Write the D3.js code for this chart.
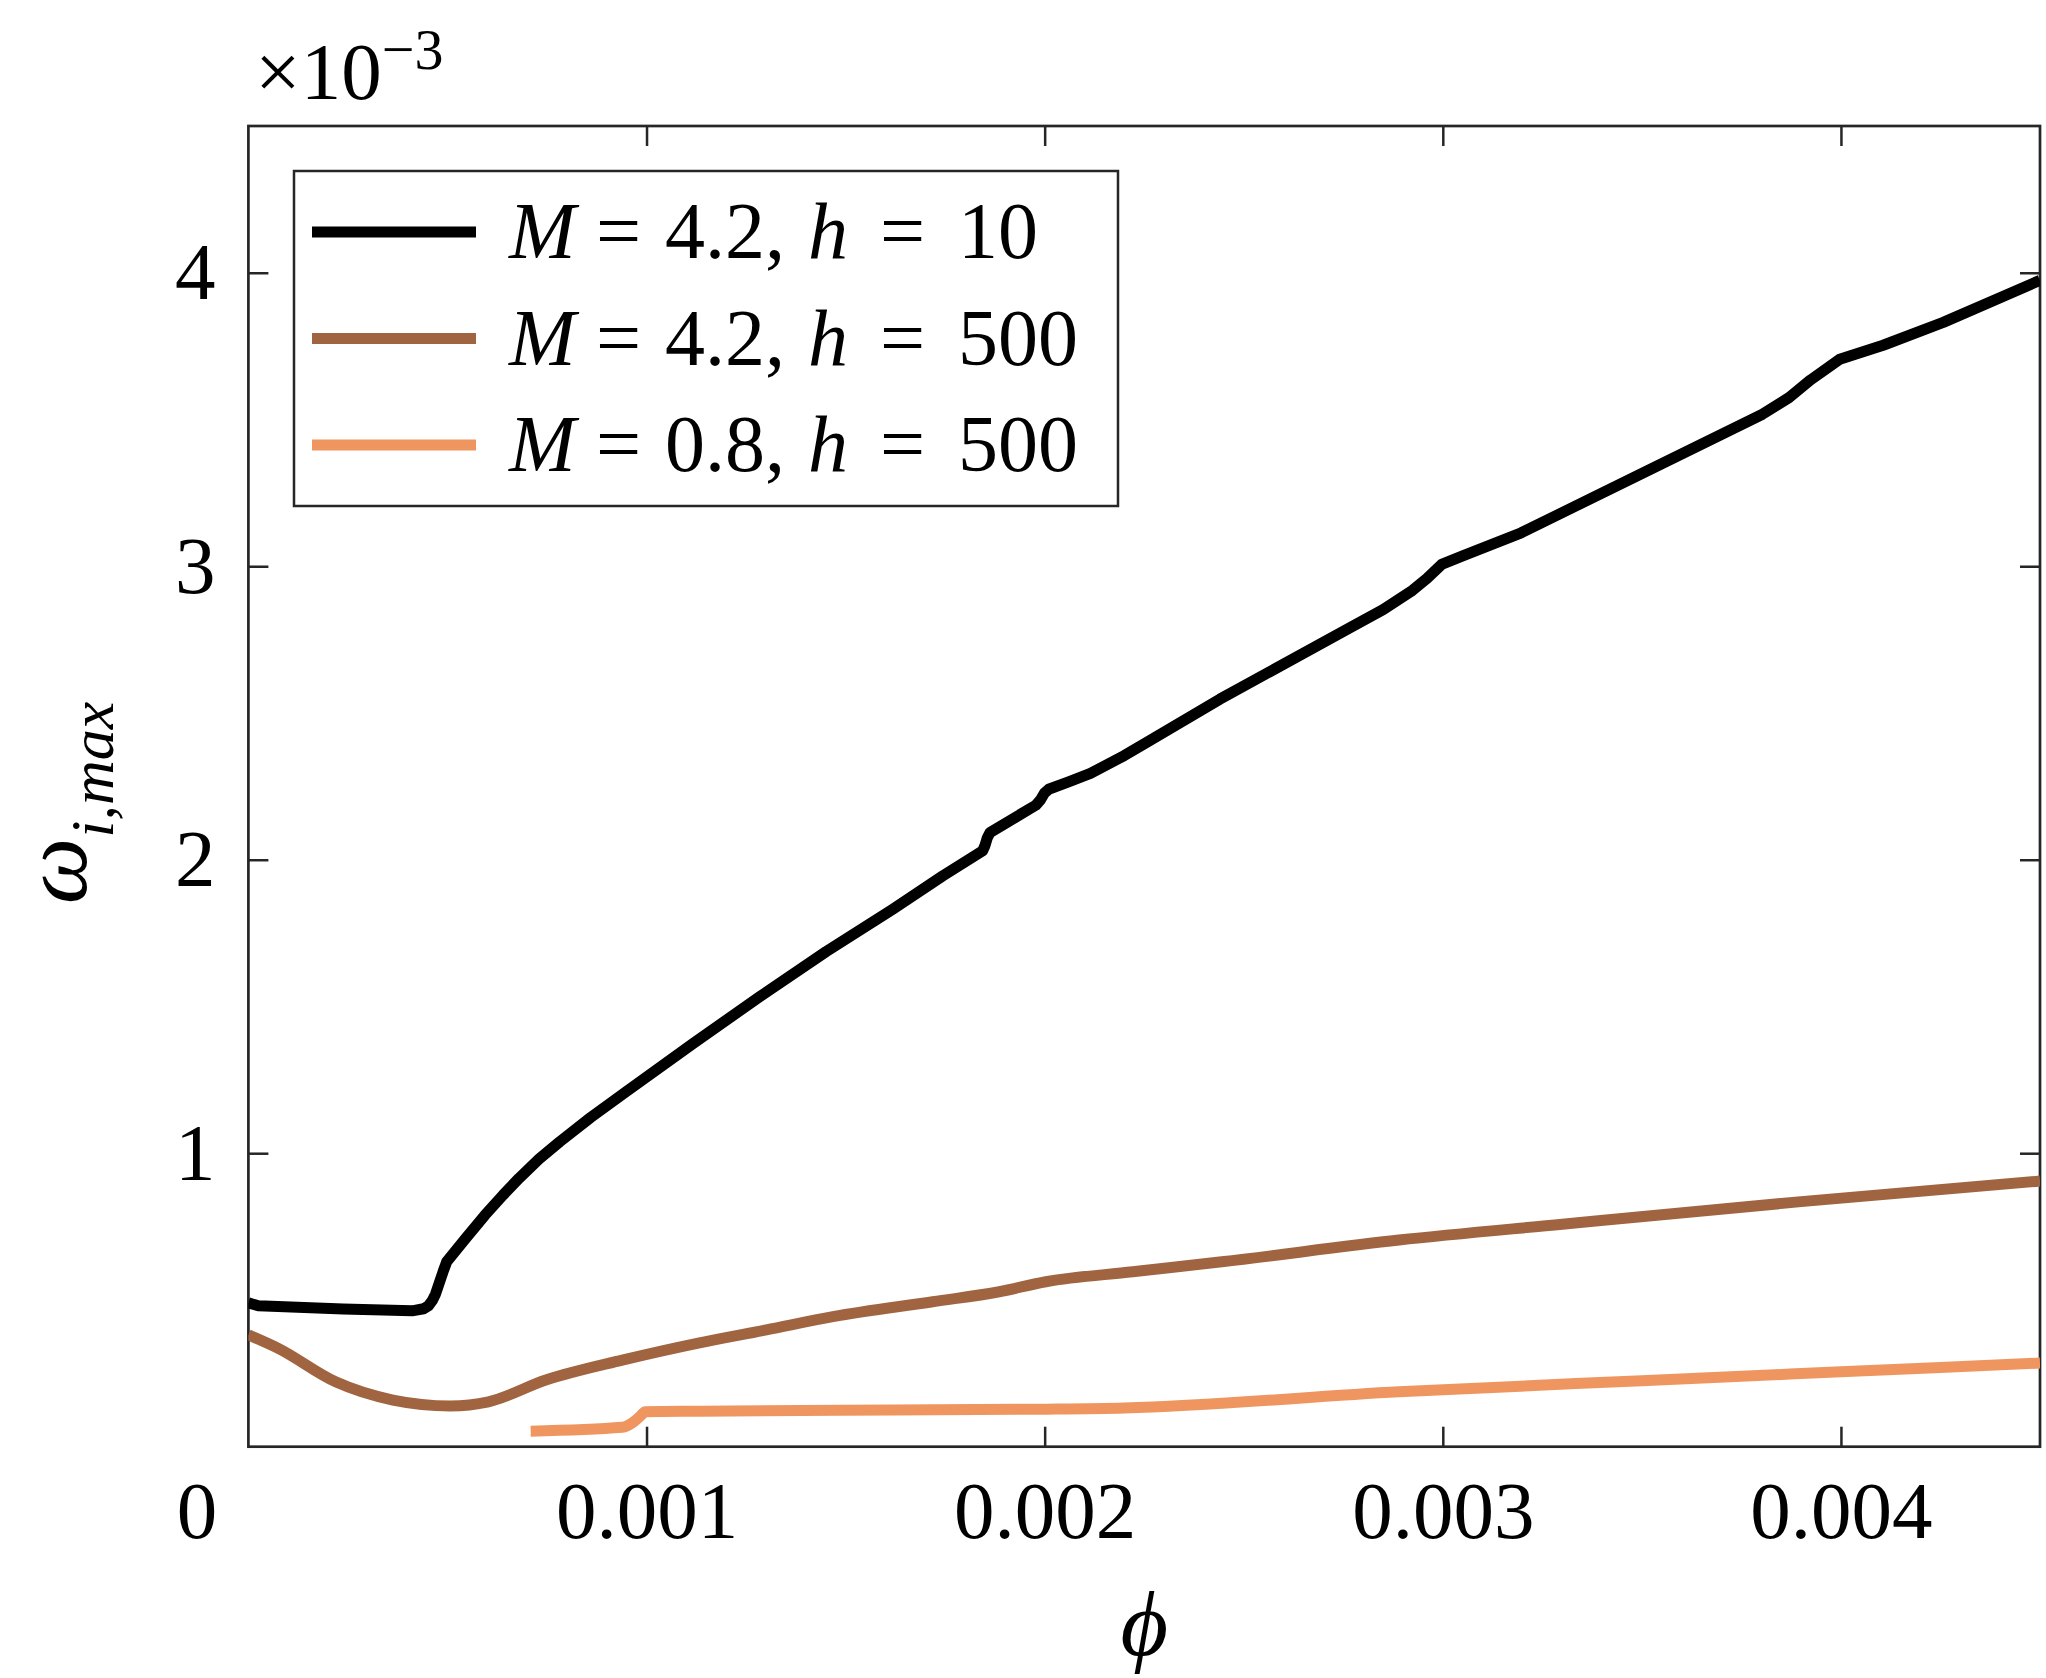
<!DOCTYPE html>
<html>
<head>
<meta charset="utf-8">
<script src="https://cdn.jsdelivr.net/npm/d3@7"></script>
<style>
  body { margin: 0; background: #fff; }
  text { font-family: "Liberation Serif", "Times New Roman", serif; fill: #000; }
</style>
</head>
<body>
<svg id="chart" width="2046" height="1678"></svg>
<script>
// phi and omega values below are in units of 1e-3
const phiBlack = [0, 0.025, 0.238, 0.411, 0.440, 0.452, 0.462, 0.470, 0.480, 0.490, 0.498, 0.546, 0.594, 0.640, 0.680, 0.730, 0.782, 0.860, 0.949, 1.117, 1.284, 1.451, 1.618, 1.744, 1.844, 1.850, 1.856, 1.863, 1.978, 1.990, 2.000, 2.010, 2.060, 2.115, 2.200, 2.259, 2.440, 2.773, 2.850, 2.924, 2.960, 2.997, 3.050, 3.197, 3.500, 3.803, 3.870, 3.924, 3.997, 4.106, 4.257, 4.500];
const omegaBlack = [0.490, 0.480, 0.469, 0.463, 0.470, 0.480, 0.498, 0.520, 0.560, 0.600, 0.630, 0.710, 0.789, 0.858, 0.915, 0.980, 1.039, 1.122, 1.210, 1.374, 1.533, 1.687, 1.831, 1.945, 2.030, 2.048, 2.075, 2.093, 2.186, 2.205, 2.228, 2.240, 2.265, 2.294, 2.355, 2.402, 2.547, 2.795, 2.852, 2.918, 2.958, 3.006, 3.035, 3.114, 3.316, 3.518, 3.575, 3.635, 3.705, 3.753, 3.831, 3.974];

const phiBrown = [0, 0.075, 0.219, 0.363, 0.507, 0.603, 0.747, 0.939, 1.133, 1.301, 1.468, 1.719, 1.886, 2.003, 2.221, 2.445, 2.890, 3.300, 3.900, 4.500];
const omegaBrown = [0.381, 0.335, 0.221, 0.159, 0.139, 0.153, 0.227, 0.295, 0.354, 0.398, 0.443, 0.494, 0.528, 0.562, 0.596, 0.630, 0.704, 0.758, 0.835, 0.905];

const phiOrange = [0.709, 0.939, 0.968, 0.985, 0.997, 1.133, 1.485, 2.003, 2.200, 2.890, 3.500, 4.000, 4.500];
const omegaOrange = [0.053, 0.066, 0.085, 0.105, 0.119, 0.121, 0.124, 0.128, 0.132, 0.187, 0.225, 0.255, 0.285];

const legendM = ["4.2", "4.2", "0.8"];
const legendH = ["10", "500", "500"];
const seriesColors = ["#000000", "#a06540", "#ef9660"];

const xTicks = [0, 0.001, 0.002, 0.003, 0.004];
const yTicks = [0.001, 0.002, 0.003, 0.004];

const svg = d3.select("#chart");
const plot = { left: 248.4, right: 2040, top: 126, bottom: 1446.7 };
const axisColor = "#262626";

const x = d3.scaleLinear().domain([0, 0.0045]).range([plot.left, plot.right]);
const y = d3.scaleLinear().domain([0, 0.0045]).range([plot.bottom, plot.top]);

//black curve has sharp kinks, so it is drawn as a polyline
const series = [
    { phi: phiBlack, omega: omegaBlack, curve: d3.curveLinear },
    { phi: phiBrown, omega: omegaBrown, curve: d3.curveMonotoneX },
    { phi: phiOrange, omega: omegaOrange, curve: d3.curveMonotoneX }
].map((s, i) => ({
    color: seriesColors[i],
    curve: s.curve,
    points: s.phi.map((p, j) => [p * 1e-3, s.omega[j] * 1e-3])
}));

//clip lines to the axes box
svg.append("defs").append("clipPath").attr("id", "plotClip")
    .append("rect")
    .attr("x", plot.left).attr("y", plot.top)
    .attr("width", plot.right - plot.left)
    .attr("height", plot.bottom - plot.top);

//axes: ticks point inward on all four sides
const fontSize = 81;
const xAxis = svg.append("g")
    .attr("transform", `translate(0,${plot.bottom})`)
    .call(d3.axisBottom(x).tickValues(xTicks).tickSizeInner(-20).tickSizeOuter(0).tickPadding(33.5)
        .tickFormat(d => d === 0 ? "0" : d3.format(".3f")(d)));
xAxis.selectAll("text").style("font-size", fontSize + "px")
    .attr("dx", d => d === 0 ? -52 : 0);
xAxis.selectAll(".tick").filter(d => d === 0).select("line").remove();

const yAxis = svg.append("g")
    .attr("transform", `translate(${plot.left},0)`)
    .call(d3.axisLeft(y).tickValues(yTicks).tickSizeInner(-20).tickSizeOuter(0).tickPadding(33)
        .tickFormat(d => Math.round(d * 1000)));
yAxis.selectAll("text").style("font-size", fontSize + "px");

svg.append("g")
    .attr("transform", `translate(0,${plot.top})`)
    .call(d3.axisTop(x).tickValues(xTicks.slice(1)).tickSizeInner(-20).tickSizeOuter(0).tickFormat(""));
svg.append("g")
    .attr("transform", `translate(${plot.right},0)`)
    .call(d3.axisRight(y).tickValues(yTicks).tickSizeInner(-20).tickSizeOuter(0).tickFormat(""));

svg.selectAll(".domain").remove();
svg.selectAll(".tick line").attr("stroke", axisColor).attr("stroke-width", 2.5);

svg.append("rect")
    .attr("x", plot.left).attr("y", plot.top)
    .attr("width", plot.right - plot.left)
    .attr("height", plot.bottom - plot.top)
    .attr("fill", "none")
    .attr("stroke", axisColor)
    .attr("stroke-width", 2.7);

//data lines
svg.append("g")
    .attr("clip-path", "url(#plotClip)")
    .selectAll("path")
    .data(series)
    .enter()
    .append("path")
    .attr("d", d => d3.line()
        .x(p => x(p[0]))
        .y(p => y(p[1]))
        .curve(d.curve)(d.points))
    .attr("fill", "none")
    .attr("stroke", d => d.color)
    .attr("stroke-width", 11)
    .attr("stroke-linejoin", "round");

//exponent label
const expText = svg.append("text")
    .attr("x", 255)
    .attr("y", 99)
    .style("font-size", fontSize + "px");
expText.append("tspan").text("\u00d710");
expText.append("tspan").attr("dy", -30).style("font-size", "58px").text("\u22123");

//axis labels
svg.append("text")
    .attr("x", (plot.left + plot.right) / 2)
    .attr("y", 1655)
    .attr("text-anchor", "middle")
    .style("font-size", "92px")
    .style("font-style", "italic")
    .text("\u03d5");

const yLabel = svg.append("text")
    .attr("transform", `translate(86,803) rotate(-90)`)
    .attr("text-anchor", "middle")
    .style("font-style", "italic");
yLabel.append("tspan").style("font-size", "94px").text("\u03c9");
yLabel.append("tspan").attr("dy", 27).style("font-size", "62px").text("i,max");

//legend
const legend = svg.append("g");
legend.append("rect")
    .attr("x", 294).attr("y", 171)
    .attr("width", 824).attr("height", 335)
    .attr("fill", "#fff")
    .attr("stroke", axisColor)
    .attr("stroke-width", 2.5);

const rowY = [232, 338.5, 445];
series.forEach((s, i) => {
    legend.append("line")
        .attr("x1", 312).attr("x2", 476)
        .attr("y1", rowY[i]).attr("y2", rowY[i])
        .attr("stroke", s.color)
        .attr("stroke-width", 11);

    const t = legend.append("text")
        .attr("y", rowY[i] + 26)
        .style("font-size", "80px");
    t.append("tspan").attr("x", 509).style("font-style", "italic").text("M");
    t.append("tspan").attr("x", 596).text("=");
    t.append("tspan").attr("x", 665).text(legendM[i] + ",");
    t.append("tspan").attr("x", 808).style("font-style", "italic").text("h");
    t.append("tspan").attr("x", 880).text("=");
    t.append("tspan").attr("x", 958).text(legendH[i]);
});
</script>
</body>
</html>
